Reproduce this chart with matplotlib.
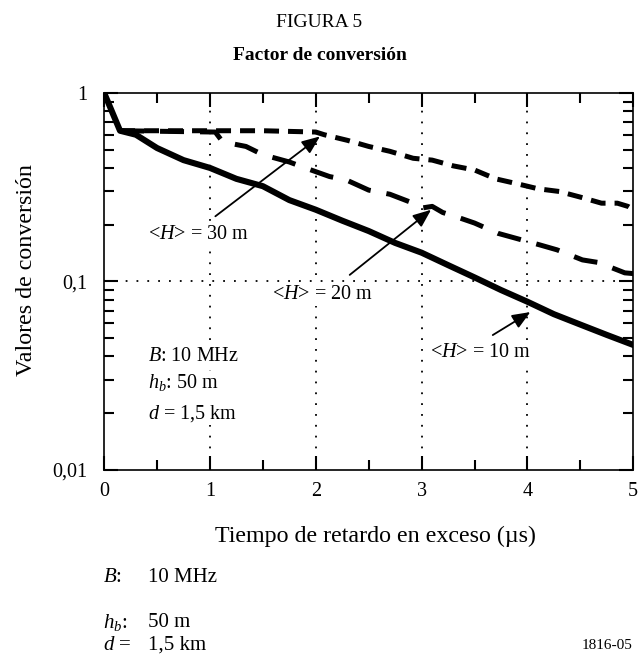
import numpy as np
import matplotlib
matplotlib.use("Agg")
import matplotlib.pyplot as plt

plt.rcParams['font.family'] = ['Liberation Serif', 'DejaVu Serif']
plt.rcParams['mathtext.fontset'] = 'custom'
plt.rcParams['mathtext.rm'] = 'Liberation Serif'
plt.rcParams['mathtext.it'] = 'Liberation Serif:italic'

# curves
x10 = [0, 0.15, 0.3, 0.5, 0.75, 1.0, 1.25, 1.5, 1.75, 2.0, 2.25, 2.5, 2.75, 3.0,
       3.25, 3.5, 3.75, 4.0, 4.25, 4.5, 4.75, 5.0]
y10 = [1.0, 0.63, 0.60, 0.51, 0.44, 0.40, 0.35, 0.32, 0.27, 0.24, 0.21, 0.185, 0.16,
       0.142, 0.122, 0.105, 0.09, 0.078, 0.067, 0.059, 0.052, 0.046]

x20 = [0.15, 1.05, 1.12, 1.34, 1.5, 1.75, 1.9, 2.13, 2.29, 2.5, 2.7, 2.92, 3.0, 3.1,
       3.2, 3.33, 3.5, 3.72, 3.88, 4.12, 4.28, 4.52, 4.67, 4.92, 5.0]
y20 = [0.63, 0.62, 0.55, 0.52, 0.47, 0.43, 0.40, 0.36, 0.345, 0.305, 0.29, 0.26, 0.245,
       0.25, 0.232, 0.22, 0.204, 0.18, 0.17, 0.156, 0.147, 0.13, 0.126, 0.111, 0.11]

x30 = [0.15, 1.0, 1.5, 2.0, 2.08, 2.3, 2.5, 2.7, 2.92, 3.1, 3.3, 3.5, 3.7, 3.9, 4.1,
       4.3, 4.5, 4.7, 4.85, 4.95, 5.0]
y30 = [0.63, 0.63, 0.63, 0.62, 0.60, 0.56, 0.52, 0.49, 0.45, 0.44, 0.41, 0.39, 0.35,
       0.33, 0.31, 0.30, 0.28, 0.26, 0.26, 0.25, 0.24]

fig = plt.figure(figsize=(6.39, 6.59), dpi=100)
ax = fig.add_axes([0.163, 0.287, 0.828, 0.572])

ax.set_yscale('log')
ax.set_xlim(0, 5)
ax.set_ylim(0.01, 1)

# dotted grid
for xv in [1, 2, 3, 4]:
    ax.axvline(xv, color='black', lw=1.3, linestyle=(0, (1, 5)), zorder=1)
ax.axhline(0.1, color='black', lw=1.3, linestyle=(0, (1, 5)), zorder=1)

ax.plot(x30, y30, color='black', lw=3.6, linestyle=(0, (3.0, 1.8)), zorder=3)
ax.plot(x20, y20, color='black', lw=3.6, linestyle=(0, (4.8, 3.2)), zorder=3)
ax.plot(x10, y10, color='black', lw=4.4, solid_joinstyle='round', zorder=4)

ax.set_xticks([0, 1, 2, 3, 4, 5])
ax.set_xticks([0.5, 1.5, 2.5, 3.5, 4.5], minor=True)
ax.set_yticks([0.01, 0.1, 1])
ax.set_yticklabels(['0,01', '0,1', '1'])
ax.tick_params(which='both', direction='in', top=True, right=True, width=1.5,
               labelsize=14.5)
ax.tick_params(which='major', length=10)
ax.tick_params(which='minor', length=7)
ax.tick_params(axis='x', pad=9)
ax.tick_params(axis='y', pad=12)
for s in ax.spines.values():
    s.set_linewidth(1.2)

fs = 14.5
box = dict(facecolor='white', edgecolor='none', pad=1)
arrow = dict(arrowstyle='-|>,head_length=1.1,head_width=0.45', color='black', lw=1.3)
ax.text(0.41, 0.177, '<$H$> = 30 m', fontsize=fs, va='center', bbox=box, zorder=5)
ax.annotate('', xy=(2.06, 0.6), xytext=(1.03, 0.217), arrowprops=arrow, zorder=6)
ax.text(1.59, 0.085, '<$H$> = 20 m', fontsize=fs, va='center', bbox=box, zorder=5)
ax.annotate('', xy=(3.11, 0.245), xytext=(2.3, 0.106), arrowprops=arrow, zorder=6)
ax.text(3.08, 0.042, '<$H$> = 10 m', fontsize=fs, va='center', bbox=box, zorder=5)
ax.annotate('', xy=(4.05, 0.07), xytext=(3.65, 0.051), arrowprops=arrow, zorder=6)

ax.text(0.41, 0.040, '$B$: 10 MHz', fontsize=fs, va='center', bbox=box, zorder=5)
ax.text(0.41, 0.029, '$h_b$: 50 m', fontsize=fs, va='center', bbox=box, zorder=5)
ax.text(0.41, 0.020, '$d$ = 1,5 km', fontsize=fs, va='center', bbox=box, zorder=5)

ax.set_xlabel('Tiempo de retardo en exceso (µs)', fontsize=17.3)
ax.set_ylabel('Valores de conversión', fontsize=17.3)
ax.xaxis.set_label_coords(0.513, -0.148)
ax.yaxis.set_label_coords(-0.127, 0.53)

fig.text(0.5, 0.966, 'FIGURA 5', fontsize=14, ha='center', va='center')
fig.text(0.5, 0.916, 'Factor de conversión', fontsize=14, ha='center', va='center',
         fontweight='bold')

fig.text(0.161, 0.124, '$B$:', fontsize=15, va='center')
fig.text(0.232, 0.124, '10 MHz', fontsize=15, va='center')
fig.text(0.161, 0.056, '$h_b$:', fontsize=15, va='center')
fig.text(0.232, 0.056, '50 m', fontsize=15, va='center')
fig.text(0.161, 0.021, '$d$ =', fontsize=15, va='center')
fig.text(0.232, 0.021, '1,5 km', fontsize=15, va='center')
fig.text(0.99, 0.021, '1816-05', fontsize=11, ha='right', va='center')

fig.savefig('out.png', dpi=100)
